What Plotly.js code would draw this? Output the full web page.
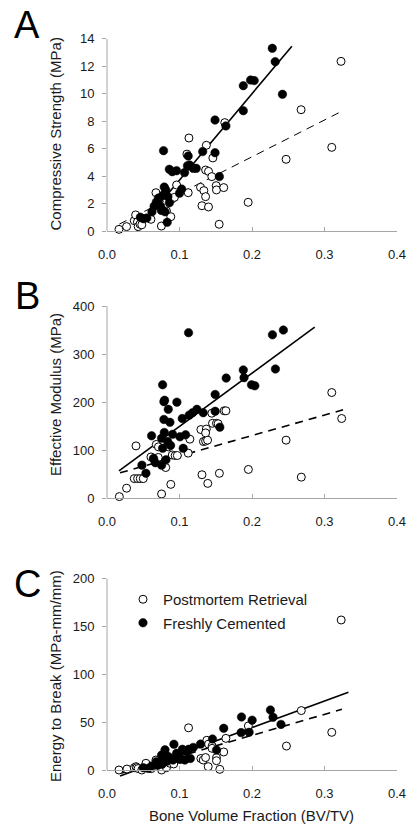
<!DOCTYPE html>
<html>
<head>
<meta charset="utf-8">
<script src="https://cdn.plot.ly/plotly-3.0.1.min.js"></script>
<style>html,body{margin:0;padding:0;background:#fff;}#chart{width:409px;height:831px;}</style>
</head>
<body>
<div id="chart"></div>
<script>
// ---------- DATA ----------
const xTicks = [0, 0.1, 0.2, 0.3, 0.4];
const yTicksA = [0, 2, 4, 6, 8, 10, 12, 14];
const yTicksB = [0, 100, 200, 300, 400];
const yTicksC = [0, 50, 100, 150, 200];
const seriesNames = ["Postmortem Retrieval", "Freshly Cemented"];
const panelLetters = ["A", "B", "C"];
const yTitles = ["Compressive Strength (MPa)", "Effective Modulus (MPa)", "Energy to Break (MPa-mm/mm)"];
const xTitle = "Bone Volume Fraction (BV/TV)";

// Panel A: compressive strength
const postA_x = [0.0165,0.027,0.0376,0.0395,0.042,0.043,0.0455,0.048,0.0606,0.0675,0.075,0.082,0.088,0.0895,0.093,0.096,0.1102,0.112,0.113,0.129,0.131,0.1336,0.136,0.136,0.137,0.14,0.14,0.1446,0.146,0.1506,0.151,0.1547,0.161,0.1625,0.1947,0.247,0.2677,0.310,0.3228];
const postA_y = [0.12,0.32,0.75,1.17,0.66,0.32,0.5,0.45,0.85,2.79,0.36,1.46,1.04,2.33,2.45,3.35,5.6,2.79,6.77,3.18,1.84,2.94,2.5,4.44,6.24,1.75,4.34,3.96,5.32,3.3,2.99,0.49,3.16,7.89,2.09,5.22,8.83,6.09,12.35];
const freshA_x = [0.046,0.050,0.055,0.062,0.065,0.068,0.071,0.074,0.075,0.077,0.078,0.079,0.080,0.081,0.083,0.084,0.086,0.086,0.090,0.096,0.100,0.103,0.107,0.111,0.112,0.114,0.119,0.123,0.132,0.149,0.149,0.155,0.164,0.188,0.188,0.198,0.203,0.228,0.232,0.242];
const freshA_y = [1.0,0.9,0.95,1.4,1.8,2.1,2.4,1.8,1.5,2.6,5.85,3.2,1.4,3.0,0.63,2.5,4.49,2.05,4.32,4.39,2.75,3.05,4.25,4.75,5.46,4.8,4.56,4.56,5.78,8.08,5.7,3.96,7.65,8.76,10.58,10.99,10.95,13.3,12.33,9.95];
const fitA_fresh_x = [0.041, 0.255];
const fitA_fresh_y = [0.0, 13.45];
const fitA_post_x = [0.017, 0.325];
const fitA_post_y = [0.5, 8.75];

// Panel B: effective modulus
const postB_x = [0.017,0.027,0.040,0.0376,0.0422,0.0459,0.050,0.0606,0.064,0.068,0.0707,0.071,0.0753,0.081,0.088,0.0845,0.09,0.094,0.097,0.1143,0.112,0.1295,0.133,0.136,0.1387,0.137,0.136,0.1446,0.1455,0.151,0.1533,0.1616,0.164,0.131,0.139,0.155,0.195,0.247,0.268,0.310,0.3237];
const postB_y = [3.5,21,109,41,41,41,41,86,82,112,85,107,9,64,29,107,90,89,89,123,94,143,118,119,121,144,136,177,156,156,155,182,182,49,31,52,60,121,44,220,166];
const freshB_x = [0.0482,0.0537,0.0615,0.0643,0.0666,0.0753,0.0753,0.0767,0.0767,0.0785,0.0785,0.079,0.0794,0.0813,0.0836,0.0845,0.0868,0.0877,0.0905,0.0964,0.1006,0.1038,0.1051,0.1084,0.1125,0.1134,0.118,0.124,0.1327,0.1492,0.1492,0.1556,0.1644,0.188,0.189,0.1993,0.2039,0.2282,0.2323,0.2433];
const freshB_y = [69,52,130,83,74,125,69,236,104,201,164,137,204,80,118,185,158,110,133,200,128,166,104,132,344.5,173,178,185,178,216,181,148,250,267,251,236,234,340,269,350];
const fitB_fresh_x = [0.0165, 0.2865];
const fitB_fresh_y = [57, 356];
const fitB_post_x = [0.018, 0.3256];
const fitB_post_y = [53, 184];

// Panel C: energy to break
const postC_x = [0.0165,0.0275,0.0376,0.04,0.041,0.043,0.048,0.0537,0.061,0.0675,0.0753,0.082,0.0868,0.092,0.0937,0.097,0.1125,0.1295,0.1327,0.136,0.1396,0.1377,0.14,0.145,0.145,0.151,0.151,0.1556,0.161,0.164,0.195,0.2475,0.268,0.310,0.323];
const postC_y = [0,1,2.4,3.5,2.4,1.5,0,7,1.4,10.4,0,2.4,7,6.3,12,14,44,12,10.4,13,3.5,31,27,25,22.6,12.9,9.7,0.7,18.8,33,46,25,62,39.3,156.5];
const freshC_x = [0.05,0.057,0.0615,0.068,0.07,0.073,0.0753,0.076,0.078,0.08,0.08,0.082,0.0845,0.088,0.091,0.0923,0.096,0.1,0.1006,0.104,0.1074,0.11,0.1125,0.115,0.119,0.129,0.1455,0.151,0.161,0.185,0.1855,0.196,0.2002,0.2254,0.229,0.24];
const freshC_y = [2.4,1.7,4.2,8.7,5,8.7,15.6,6,12,21,15.6,9,14,12,10.4,26.8,17.4,16,11,21.6,10.4,19,21.6,12,23.6,27,32.3,20.9,43.5,39,55.3,39.3,52,62.6,55,47.6];
const fitC_fresh_x = [0.018, 0.333];
const fitC_fresh_y = [-6.3, 81];
const fitC_post_x = [0.019, 0.324];
const fitC_post_y = [-3.5, 63.3];

// ---------- LAYOUT GEOMETRY (pixels) ----------
const W = 409, H = 831;
const plotLeft = 107, plotRight = 397;
const panels = [
  {top: 38.7, zero: 231,   ymax: 14,  ymin: -0.4, ticks: yTicksA, letterY: 25,  titleY: 134.5},
  {top: 306,  zero: 498.3, ymax: 400, ymin: -10,  ticks: yTicksB, letterY: 296, titleY: 395},
  {top: 578.3,zero: 770,   ymax: 200, ymin: -8,   ticks: yTicksC, letterY: 584, titleY: 676}
];
const AX = '#a6a6a6';
const TXT = '#1a1a1a';
const FONT = 'Liberation Sans, Arial, sans-serif';

const data = [];
const fits = [
  [fitA_post_x, fitA_post_y, fitA_fresh_x, fitA_fresh_y],
  [fitB_post_x, fitB_post_y, fitB_fresh_x, fitB_fresh_y],
  [fitC_post_x, fitC_post_y, fitC_fresh_x, fitC_fresh_y]
];
const pts = [
  [postA_x, postA_y, freshA_x, freshA_y],
  [postB_x, postB_y, freshB_x, freshB_y],
  [postC_x, postC_y, freshC_x, freshC_y]
];
const dashW = [1, 1.6, 1.6];
for (let i = 0; i < 3; i++) {
  const sfx = i === 0 ? '' : String(i + 1);
  const xa = 'x' + sfx, ya = 'y' + sfx;
  const f = fits[i], p = pts[i];
  data.push({type:'scatter', mode:'lines', x:f[0], y:f[1], xaxis:xa, yaxis:ya, showlegend:false,
    line:{color:'#000', width:dashW[i], dash:'8px,6px'}, hoverinfo:'skip'});
  data.push({type:'scatter', mode:'lines', x:f[2], y:f[3], xaxis:xa, yaxis:ya, showlegend:false,
    line:{color:'#000', width:1.6}, hoverinfo:'skip'});
  data.push({type:'scatter', mode:'markers', x:p[0], y:p[1], xaxis:xa, yaxis:ya, name:seriesNames[0],
    legendgroup:'g1', showlegend:i === 2, cliponaxis:false,
    marker:{symbol:'circle', size:8, color:'#fff', line:{color:'#000', width:1}}});
  data.push({type:'scatter', mode:'markers', x:p[2], y:p[3], xaxis:xa, yaxis:ya, name:seriesNames[1],
    legendgroup:'g2', showlegend:i === 2, cliponaxis:false,
    marker:{symbol:'circle', size:8.5, color:'#000', line:{color:'#000', width:0.5}}});
}

const layout = {
  width: W, height: H,
  margin: {l:0, r:0, t:0, b:0},
  paper_bgcolor: '#fff', plot_bgcolor: 'rgba(0,0,0,0)',
  font: {family: FONT, color: TXT, size: 13},
  showlegend: true,
  legend: {x: 123/W, y: 1 - 583/H, xanchor:'left', yanchor:'top', traceorder:'grouped',
    tracegroupgap: 1, font:{size:15, color:TXT, family:FONT}, bgcolor:'rgba(0,0,0,0)', itemsizing:'trace'},
  annotations: [], shapes: []
};

panels.forEach((pn, i) => {
  const sfx = i === 0 ? '' : String(i + 1);
  const pxPerUnit = (pn.zero - pn.top) / pn.ymax;
  const bottomPx = pn.zero + (0 - pn.ymin) * pxPerUnit;
  layout['xaxis' + sfx] = {
    domain: [plotLeft / W, plotRight / W], range: [0, 0.4],
    anchor: 'free', position: 1 - pn.zero / H,
    tickvals: xTicks, tickformat: '.1f',
    ticks: 'inside', ticklen: 4, tickcolor: AX, tickwidth: 1,
    showline: true, linecolor: AX, linewidth: 1,
    showgrid: false, zeroline: false, ticklabelstandoff: 11,
    tickfont: {size: 13, color: TXT, family: FONT}, fixedrange: true
  };
  layout['yaxis' + sfx] = {
    domain: [1 - bottomPx / H, 1 - pn.top / H], range: [pn.ymin, pn.ymax],
    anchor: 'x' + sfx, tickvals: pn.ticks,
    ticks: 'outside', ticklen: 4, tickcolor: AX, tickwidth: 1,
    showline: false, showgrid: false, zeroline: false, ticklabelstandoff: 5,
    tickfont: {size: 13, color: TXT, family: FONT}, fixedrange: true
  };
  layout.shapes.push({type:'line', xref:'paper', yref:'y' + sfx, x0: plotLeft / W, x1: plotLeft / W,
    y0: 0, y1: pn.ymax, line:{color:AX, width:1}});
  layout.annotations.push({text: panelLetters[i], xref:'paper', yref:'paper', x: 27 / W, y: 1 - pn.letterY / H,
    xanchor:'center', yanchor:'middle', showarrow:false, font:{size:38, color:'#000', family:FONT}});
  layout.annotations.push({text: yTitles[i], xref:'paper', yref:'paper', x: 55 / W, y: 1 - pn.titleY / H,
    xanchor:'center', yanchor:'middle', textangle:-90, showarrow:false, font:{size:15, color:TXT, family:FONT}});
});
layout.annotations.push({text: xTitle, xref:'paper', yref:'paper', x: 251 / W, y: 1 - 815 / H,
  xanchor:'center', yanchor:'middle', showarrow:false, font:{size:15, color:TXT, family:FONT}});

Plotly.newPlot('chart', data, layout, {staticPlot: true, displayModeBar: false});
</script>
</body>
</html>
